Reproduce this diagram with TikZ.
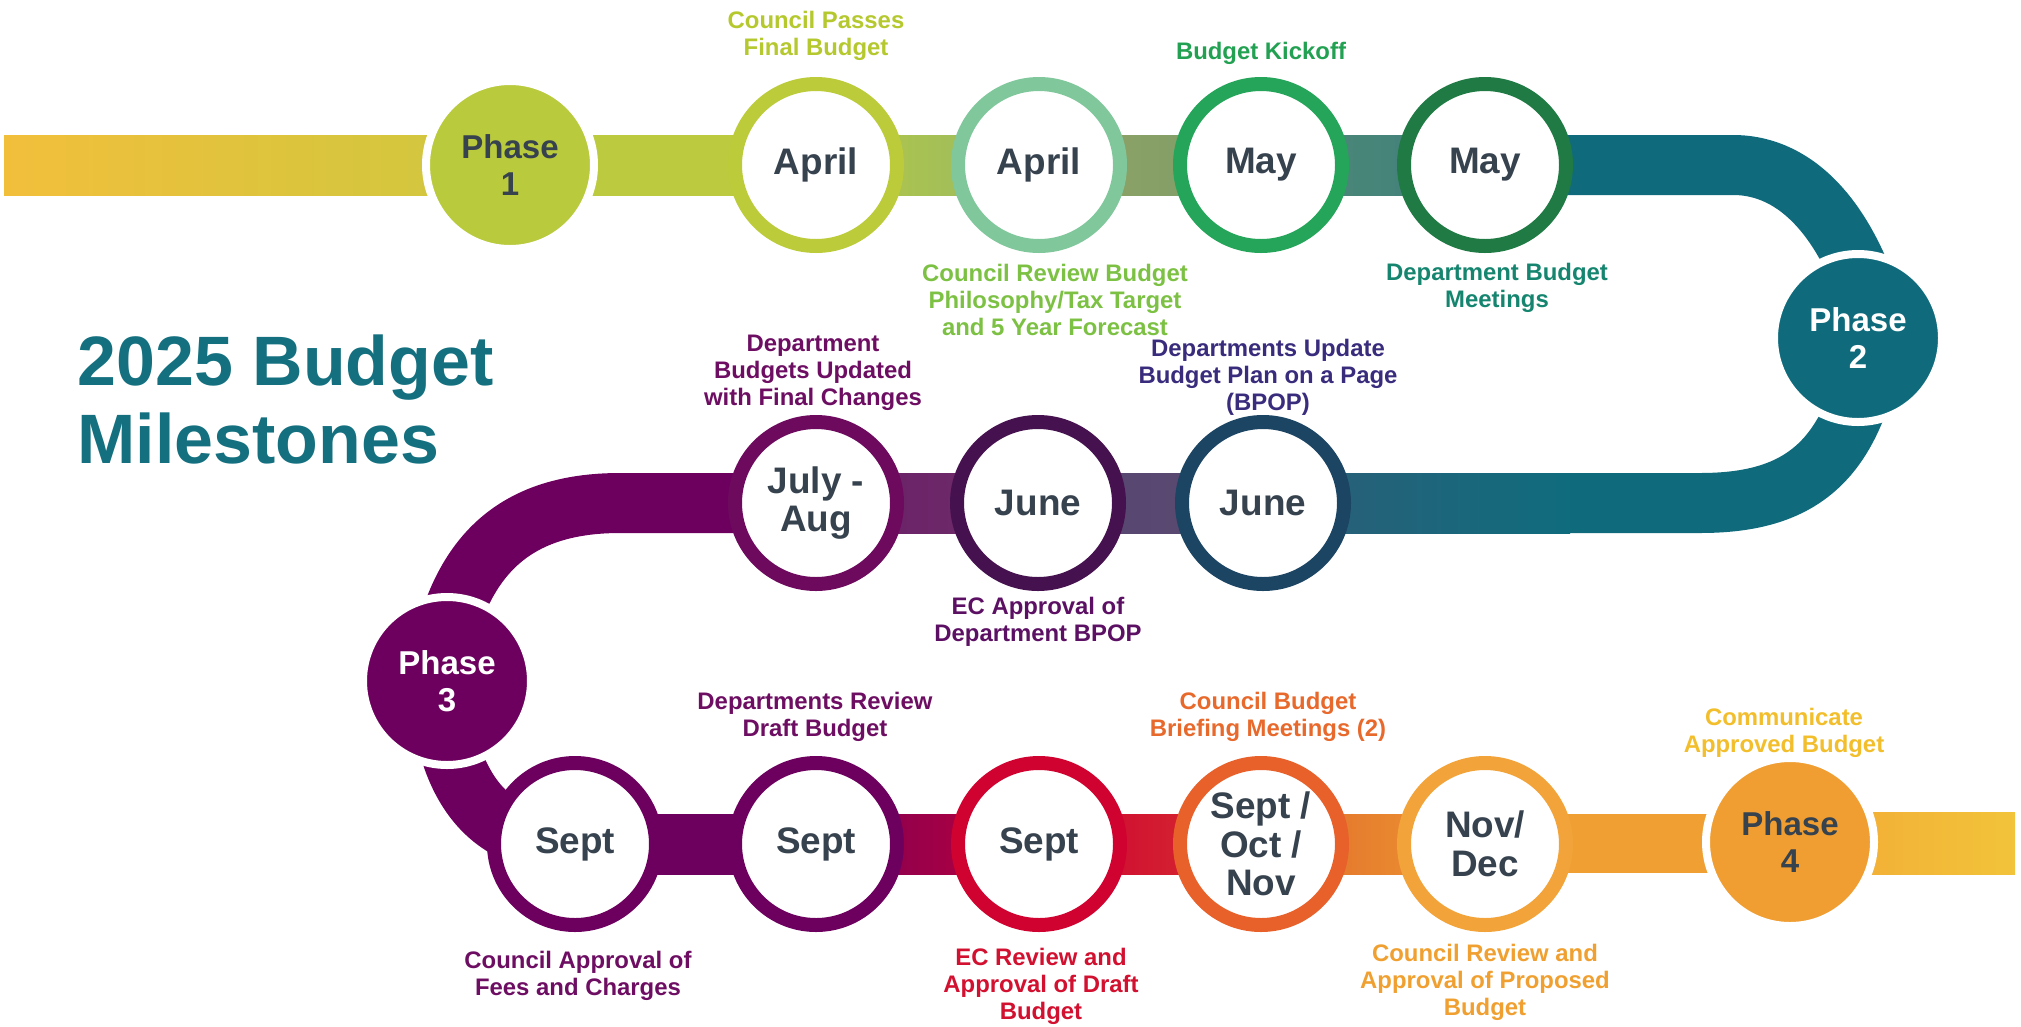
\documentclass[tikz,border=0pt]{standalone}
\usepackage{fontspec}
\setmainfont{Liberation Sans}
\usetikzlibrary{calc}

\definecolor{slate}{HTML}{37424F}
\definecolor{titleteal}{HTML}{14707F}
\definecolor{ph1}{HTML}{B9CA3C}
\definecolor{ph2}{HTML}{0F6B7C}
\definecolor{ph3}{HTML}{6D005E}
\definecolor{ph4}{HTML}{F09E32}
\definecolor{ringA}{HTML}{BCCB3A}
\definecolor{ringB}{HTML}{80C89C}
\definecolor{ringC}{HTML}{24A55A}
\definecolor{ringD}{HTML}{1F7A44}
\definecolor{ringE}{HTML}{1C4463}
\definecolor{ringF}{HTML}{46114F}
\definecolor{ringG}{HTML}{6D0A5E}
\definecolor{ringH}{HTML}{6D005F}
\definecolor{ringI}{HTML}{D0022F}
\definecolor{ringJ}{HTML}{E8602A}
\definecolor{ringK}{HTML}{F2A43A}
\definecolor{txA}{HTML}{B5C82E}
\definecolor{txB}{HTML}{7CC143}
\definecolor{txC}{HTML}{23A152}
\definecolor{txD}{HTML}{15856F}
\definecolor{txE}{HTML}{3A2C7C}
\definecolor{txF}{HTML}{5C1063}
\definecolor{txG}{HTML}{6D0E63}
\definecolor{txH}{HTML}{D2102F}
\definecolor{txI}{HTML}{E8692C}
\definecolor{txJ}{HTML}{F0A030}
\definecolor{txK}{HTML}{F2BE2C}
% road shades
\definecolor{rdA}{HTML}{F2BF3B}
\definecolor{rdB}{HTML}{CDC83F}
\definecolor{rdC}{HTML}{BBCA3E}
\definecolor{rdD}{HTML}{B4C947}
\definecolor{rdE}{HTML}{98B862}
\definecolor{rdF}{HTML}{93A663}
\definecolor{rdG}{HTML}{7A9A6A}
\definecolor{rdH}{HTML}{4F8A79}
\definecolor{rdI}{HTML}{3F7F7A}
\definecolor{rdJ}{HTML}{2F5D79}
\definecolor{rdK}{HTML}{0F6C7C}
\definecolor{rdL}{HTML}{574470}
\definecolor{rdM}{HTML}{5A4C72}
\definecolor{rdN}{HTML}{6D1E66}
\definecolor{rdO}{HTML}{6B2E6B}
\definecolor{rdP}{HTML}{7A0058}
\definecolor{rdQ}{HTML}{C00038}
\definecolor{rdR}{HTML}{CC0033}
\definecolor{rdS}{HTML}{D8322E}
\definecolor{rdT}{HTML}{E06A2C}
\definecolor{rdU}{HTML}{EE9A32}
\definecolor{rdV}{HTML}{F0A033}
\definecolor{rdW}{HTML}{F2A735}
\definecolor{rdX}{HTML}{F2C43A}

\newcommand\lblfont{\fontsize{6.8pt}{7.7pt}\selectfont\bfseries}
\newcommand\monfont{\fontsize{10.5pt}{11pt}\selectfont\bfseries}
\newcommand\phfont{\fontsize{9.4pt}{10.6pt}\selectfont\bfseries}
\newcommand\ttlfont{\fontsize{19.9pt}{22pt}\selectfont\bfseries}

\pgfdeclarelayer{bands}
\pgfsetlayers{bands,main}

\tikzset{
  month/.style={circle, draw=#1, fill=white, line width=1.4mm, minimum size=16.2mm,
    inner sep=0pt, align=center, text=slate, font=\monfont},
  phase/.style={circle, fill=#1, draw=white, line width=0.8mm, minimum size=16.8mm,
    inner sep=0pt, align=center, font=\phfont},
  lbl/.style={text=#1, align=center, font=\lblfont, inner sep=0pt},
  band/.style={draw=#1, line width=6mm}
}

% straight piece of the road between two points, shaded left to right
\newcommand\roadpiece[4]{\shade[left color=#3, right color=#4]
  ($(#1)+(0,-30)$) rectangle ($(#2)+(0,30)$);}

\begin{document}
\begin{tikzpicture}[x=0.1mm, y=-0.1mm]
  \useasboundingbox (0,0) rectangle (2021,1026);

  % title
  \node[anchor=base west, inner sep=0pt, text=titleteal, font=\ttlfont] (ttl1) at (77,385) {2025 Budget};
  \node[anchor=base west, inner sep=0pt, text=titleteal, font=\ttlfont] (ttl2) at (77,463) {Milestones};

  % phases
  \node[phase=ph1, text=slate] (p1) at (510,165) {Phase\\1};
  \node[phase=ph2, text=white] (p2) at (1858,338) {Phase\\2};
  \node[phase=ph3, text=white] (p3) at (447,681) {Phase\\3};
  \node[phase=ph4, text=slate] (p4) at (1790,842) {Phase\\4};

  % months
  \node[month=ringA] (a1) at (816,165) {April};
  \node[month=ringB] (a2) at (1039,165) {April};
  \node[month=ringC] (m1) at (1261,165) {May};
  \node[month=ringD] (m2) at (1485,165) {May};
  \node[month=ringE] (j2) at (1263,503) {June};
  \node[month=ringF] (j1) at (1038,503) {June};
  \node[month=ringG] (ja) at (816,503) {July -\\Aug};
  \node[month=ringH] (s1) at (575,844) {Sept};
  \node[month=ringH] (s2) at (816,844) {Sept};
  \node[month=ringI] (s3) at (1039,844) {Sept};
  \node[month=ringJ] (son) at (1261,844) {Sept /\\Oct /\\Nov};
  \node[month=ringK] (nd) at (1485,844) {Nov/\\Dec};

  % labels
  \node[lbl=txA] (la1) at (816,36) {Council Passes\\Final Budget};
  \node[lbl=txB] (la2) at (1055,300) {Council Review Budget\\Philosophy/Tax Target\\and 5 Year Forecast};
  \node[lbl=txC] (lm1) at (1261,53) {Budget Kickoff};
  \node[lbl=txD] (lm2) at (1497,288) {Department Budget\\Meetings};
  \node[lbl=txE] (lj2) at (1268,377) {Departments Update\\Budget Plan on a Page\\(BPOP)};
  \node[lbl=txF] (lj1) at (1038,622) {EC Approval of\\Department BPOP};
  \node[lbl=txG] (lja) at (813,373) {Department\\Budgets Updated\\with Final Changes};
  \node[lbl=txG] (ls2) at (815,717) {Departments Review\\Draft Budget};
  \node[lbl=txG] (ls1) at (578,976) {Council Approval of\\Fees and Charges};
  \node[lbl=txH] (ls3) at (1041,986) {EC Review and\\Approval of Draft\\Budget};
  \node[lbl=txI] (lson) at (1268,717) {Council Budget\\Briefing Meetings (2)};
  \node[lbl=txJ] (lnd) at (1485,982) {Council Review and\\Approval of Proposed\\Budget};
  \node[lbl=txK] (lp4) at (1784,733) {Communicate\\Approved Budget};

  \coordinate (lstart) at (4,165);
  \coordinate (rend) at (2015,844);
  \coordinate (bend2) at (1570,503);

  \begin{pgfonlayer}{bands}
    % top row
    \roadpiece{lstart}{p1.center}{rdA}{rdB}
    \roadpiece{p1.center}{a1.center}{rdC}{rdC}
    \roadpiece{a1.center}{a2.center}{rdD}{rdE}
    \roadpiece{a2.center}{m1.center}{rdF}{rdG}
    \roadpiece{m1.center}{m2.center}{rdH}{rdI}
    \draw[band=ph2] (m2.center) -- (1733,165) .. controls (1800,165) and (1845,225) .. (1870,300);
    % middle row
    \draw[band=ph2] (1865,380) .. controls (1840,470) and (1790,503) .. (1700,503) -- (bend2);
    \roadpiece{j2.center}{bend2}{rdJ}{rdK}
    \roadpiece{j1.center}{j2.center}{rdL}{rdM}
    \roadpiece{ja.center}{j1.center}{rdN}{rdO}
    \draw[band=ph3] (ja.center) -- (620,503) .. controls (510,503) and (460,560) .. (440,660);
    % bottom row
    \draw[band=ph3] (440,700) .. controls (450,790) and (490,844) .. (s1.center);
    \roadpiece{s1.center}{s2.center}{ph3}{ph3}
    \roadpiece{s2.center}{s3.center}{rdP}{rdQ}
    \roadpiece{s3.center}{son.center}{rdR}{rdS}
    \roadpiece{son.center}{nd.center}{rdT}{rdU}
    \roadpiece{nd.center}{p4.center}{rdV}{rdV}
    \roadpiece{p4.center}{rend}{rdW}{rdX}
  \end{pgfonlayer}
\end{tikzpicture}
\end{document}
